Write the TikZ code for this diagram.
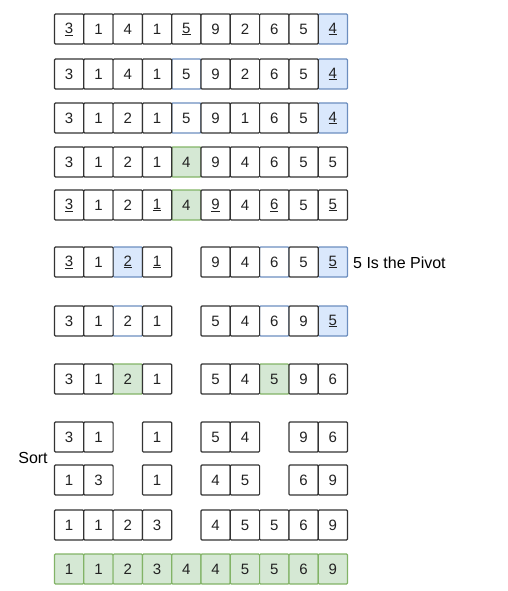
\documentclass[tikz,border=0pt]{standalone}
\usepackage{fontspec}
\setmainfont{Liberation Sans}
\usetikzlibrary{positioning}
\definecolor{cellline}{HTML}{333333}
\definecolor{celltext}{HTML}{222222}
\definecolor{bluefill}{HTML}{DAE8FC}
\definecolor{blueline}{HTML}{6C8EBF}
\definecolor{greenfill}{HTML}{D5E8D4}
\definecolor{greenline}{HTML}{82B366}
\tikzset{
  cell/.style={draw=cellline, fill=white, line width=1.2pt, rounded corners=1pt,
    minimum width=29.3pt, minimum height=30pt, inner sep=0pt,
    font=\fontsize{15}{15}\selectfont, text=celltext},
  plain/.style={},
  bfill/.style={fill=bluefill, draw=blueline},
  bline/.style={draw=blueline},
  gfill/.style={fill=greenfill, draw=greenline},
  note/.style={font=\fontsize{16}{16}\selectfont, text=black, inner sep=0pt}
}

\begin{document}
\begin{tikzpicture}[x=1pt,y=-1pt]
 \useasboundingbox (0,0) rectangle (508,591);
 % partition around pivot 4 (coloured cells first, black borders on top)
 \foreach \c/\v/\s in {9/\underline{4}/bfill,0/\underline{3}/plain,1/1/plain,2/4/plain,3/1/plain,4/\underline{5}/plain,5/9/plain,6/2/plain,7/6/plain,8/5/plain}
  \node[cell,\s] (r1c\c) at ({69.15+29.3*\c},29) {\v};
 \foreach \c/\v/\s in {4/5/bline,9/\underline{4}/bfill,0/3/plain,1/1/plain,2/4/plain,3/1/plain,5/9/plain,6/2/plain,7/6/plain,8/5/plain}
  \node[cell,\s] (r2c\c) at ({69.15+29.3*\c},74) {\v};
 \foreach \c/\v/\s in {4/5/bline,9/\underline{4}/bfill,0/3/plain,1/1/plain,2/2/plain,3/1/plain,5/9/plain,6/1/plain,7/6/plain,8/5/plain}
  \node[cell,\s] (r3c\c) at ({69.15+29.3*\c},118) {\v};
 \foreach \c/\v/\s in {4/4/gfill,0/3/plain,1/1/plain,2/2/plain,3/1/plain,5/9/plain,6/4/plain,7/6/plain,8/5/plain,9/5/plain}
  \node[cell,\s] (r4c\c) at ({69.15+29.3*\c},162) {\v};
 \foreach \c/\v/\s in {4/4/gfill,0/\underline{3}/plain,1/1/plain,2/2/plain,3/\underline{1}/plain,5/\underline{9}/plain,6/4/plain,7/\underline{6}/plain,8/5/plain,9/\underline{5}/plain}
  \node[cell,\s] (r5c\c) at ({69.15+29.3*\c},205) {\v};
 % two halves
 \foreach \c/\v/\s in {2/\underline{2}/bfill,7/6/bline,9/\underline{5}/bfill,0/\underline{3}/plain,1/1/plain,3/\underline{1}/plain,5/9/plain,6/4/plain,8/5/plain}
  \node[cell,\s] (r6c\c) at ({69.15+29.3*\c},262) {\v};
 \node[note,anchor=west] (pivot) at (353,263) {5 Is the Pivot};
 \foreach \c/\v/\s in {2/2/bline,7/6/bline,9/\underline{5}/bfill,0/3/plain,1/1/plain,3/1/plain,5/5/plain,6/4/plain,8/9/plain}
  \node[cell,\s] (r7c\c) at ({69.15+29.3*\c},321) {\v};
 \foreach \c/\v/\s in {2/2/gfill,7/5/gfill,0/3/plain,1/1/plain,3/1/plain,5/5/plain,6/4/plain,8/9/plain,9/6/plain}
  \node[cell,\s] (r8c\c) at ({69.15+29.3*\c},379) {\v};
 % sort the small parts
 \node[note] (sort) at (33,458) {Sort};
 \foreach \c/\v in {0/3,1/1,3/1,5/5,6/4,8/9,9/6}
  \node[cell] (r9c\c) at ({69.15+29.3*\c},437) {\v};
 \foreach \c/\v in {0/1,1/3,3/1,5/4,6/5,8/6,9/9}
  \node[cell] (r10c\c) at ({69.15+29.3*\c},480) {\v};
 \foreach \c/\v in {0/1,1/1,2/2,3/3,5/4,6/5,7/5,8/6,9/9}
  \node[cell] (r11c\c) at ({69.15+29.3*\c},525) {\v};
 \foreach \c/\v in {0/1,1/1,2/2,3/3,4/4,5/4,6/5,7/5,8/6,9/9}
  \node[cell,gfill] (r12c\c) at ({69.15+29.3*\c},569) {\v};
\end{tikzpicture}
\end{document}
